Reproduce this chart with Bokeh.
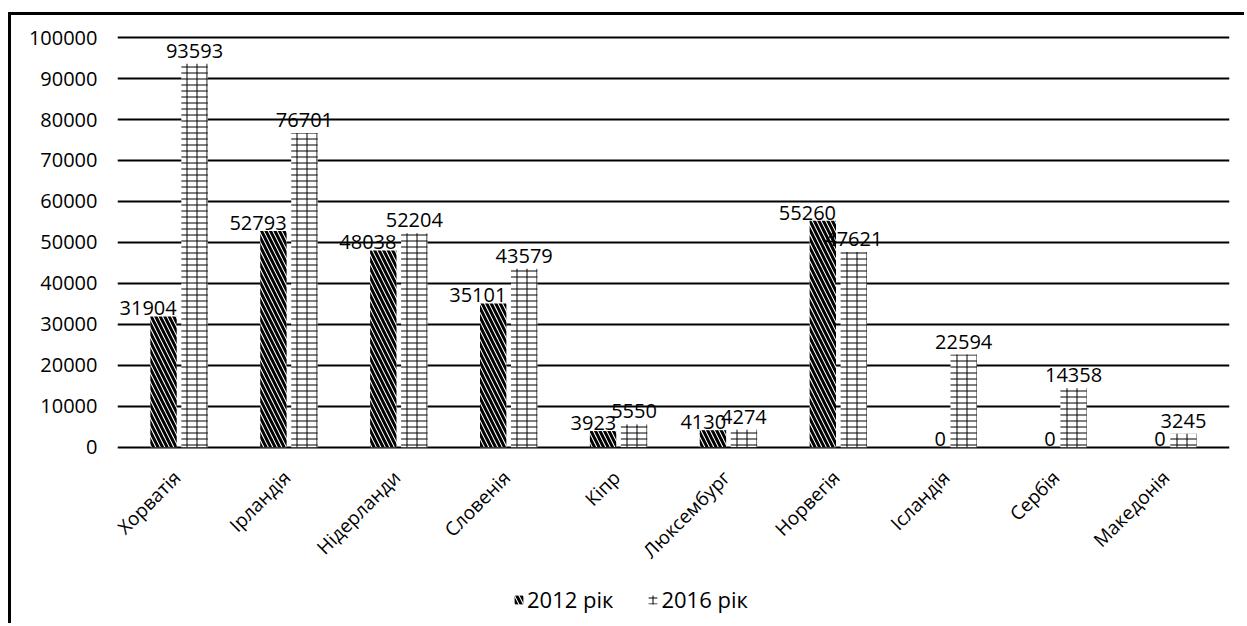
from bokeh.plotting import figure
from bokeh.models import (ColumnDataSource, FactorRange, Legend, LegendItem,
                          BasicTickFormatter)
from bokeh.transform import dodge
from bokeh.core.properties import value
from bokeh.embed import file_html
from bokeh.resources import INLINE
import math

categories = ["Хорватія", "Ірландія", "Нідерланди", "Словенія", "Кіпр",
              "Люксембург", "Норвегія", "Ісландія", "Сербія", "Македонія"]
v2012 = [31904, 52793, 48038, 35101, 3923, 4130, 55260, 0, 0, 0]
v2016 = [93593, 76701, 52204, 43579, 5550, 4274, 47621, 22594, 14358, 3245]
series_names = ["2012 рік", "2016 рік"]
y_ticks = list(range(0, 100001, 10000))

src = ColumnDataSource(dict(
    cat=categories, v2012=v2012, v2016=v2016,
    t2012=[str(v) for v in v2012], t2016=[str(v) for v in v2016],
))

FONT = "Open Sans"

x_range = FactorRange(factors=categories, range_padding=0.06, range_padding_units="absolute")
p = figure(x_range=x_range, y_range=(-43800, 101000), width=1236, height=611,
           output_backend="svg", toolbar_location=None,
           min_border_left=106, min_border_right=18, min_border_top=18, min_border_bottom=0,
           styles={"border-left": "3px solid black", "border-top": "3px solid black",
                   "position": "relative", "left": "8px", "top": "12px"})
p.outline_line_color = None
p.background_fill_color = "white"
p.border_fill_color = "white"
p.xaxis.visible = False

r1 = p.vbar(x=dodge("cat", -0.141, range=x_range), top="v2012", width=0.24, source=src,
            fill_color="white", line_color=None,
            hatch_pattern="left_diagonal_line", hatch_color="black",
            hatch_scale=9, hatch_weight=3)
r2a = p.vbar(x=dodge("cat", 0.141, range=x_range), top="v2016", width=0.24, source=src,
             fill_color="white", line_color=None,
             hatch_pattern="horizontal_line", hatch_color="black",
             hatch_scale=6, hatch_weight=1)
r2b = p.vbar(x=dodge("cat", 0.141, range=x_range), top="v2016", width=0.24, source=src,
             fill_alpha=0, line_color=None,
             hatch_pattern="vertical_line", hatch_color="black",
             hatch_scale=10, hatch_weight=1)

# value labels
p.text(x=dodge("cat", -0.021, range=x_range), y="v2012", text="t2012", source=src,
       text_align="right", text_baseline="bottom", y_offset=-1,
       text_font=value(FONT), text_font_size="20px", text_color="black")
p.text(x=dodge("cat", 0.141, range=x_range), y="v2016", text="t2016", source=src,
       text_align="center", text_baseline="bottom", y_offset=-6,
       text_font=value(FONT), text_font_size="20px", text_color="black")

# category labels (rotated)
p.text(x="cat", y=0, text="cat", source=src, angle=math.pi / 4,
       text_align="right", text_baseline="middle", x_offset=-2, y_offset=27,
       text_font=value(FONT), text_font_size="19px", text_color="black")

p.yaxis.ticker = y_ticks
p.yaxis.formatter = BasicTickFormatter(use_scientific=False)
p.yaxis.axis_line_color = None
p.yaxis.major_tick_line_color = None
p.yaxis.minor_tick_line_color = None
p.yaxis.major_label_text_font = FONT
p.yaxis.major_label_text_font_size = "20px"
p.yaxis.major_label_text_color = "black"
p.yaxis.major_label_standoff = 14

p.xgrid.grid_line_color = None
p.ygrid.ticker = y_ticks
p.ygrid.grid_line_color = "black"
p.ygrid.grid_line_width = 2

legend = Legend(items=[LegendItem(label=series_names[0], renderers=[r1]),
                       LegendItem(label=series_names[1], renderers=[r2a, r2b])],
                orientation="horizontal", location=(396, 12),
                border_line_color=None, background_fill_alpha=0,
                padding=0, margin=0, spacing=34, label_standoff=3,
                glyph_width=11, glyph_height=11,
                label_text_font=FONT, label_text_font_size="22px", label_text_color="black")
p.add_layout(legend, "center")

open("out.html", "w").write(file_html(p, INLINE))
